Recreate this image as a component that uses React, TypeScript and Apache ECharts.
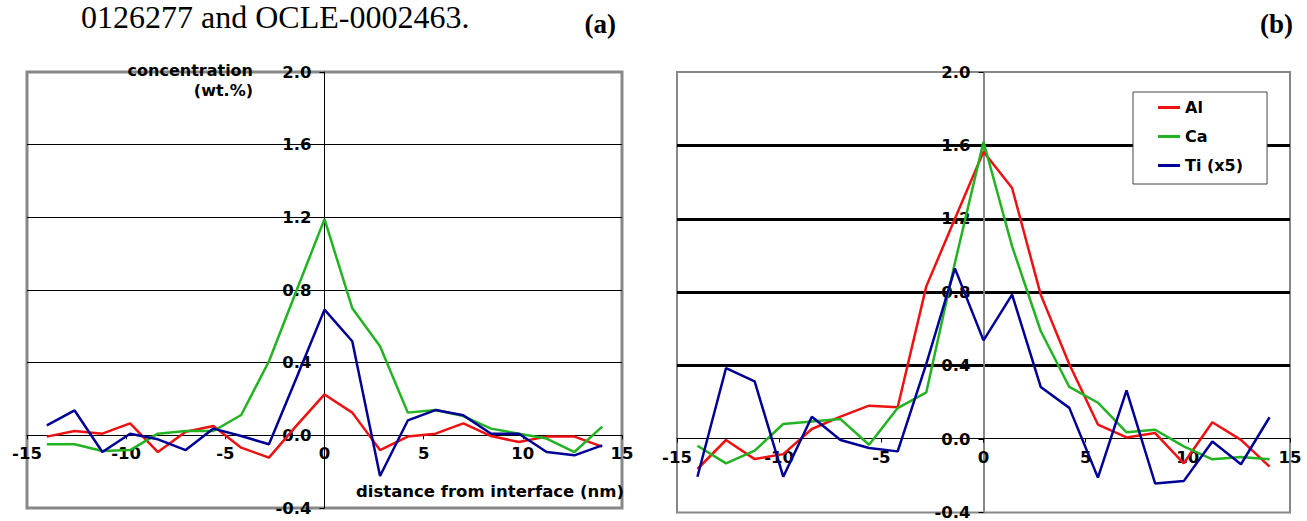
import React, { useEffect, useRef } from "react";
import * as echarts from "echarts";

// distance from interface (nm)
const distances = [-14, -12.6, -11.2, -9.8, -8.4, -7, -5.6, -4.2, -2.8, -1.4, 0, 1.4, 2.8, 4.2, 5.6, 7, 8.4, 9.8, 11.2, 12.6, 14];

// panel (a) concentration (wt.%)
const alA = [-0.007, 0.024, 0.009, 0.066, -0.092, 0.02, 0.051, -0.068, -0.123, 0.055, 0.225, 0.125, -0.081, -0.007, 0.009, 0.066, -0.004, -0.037, -0.007, -0.007, -0.062];
const caA = [-0.049, -0.049, -0.086, -0.081, 0.009, 0.024, 0.024, 0.112, 0.408, 0.8, 1.19, 0.7, 0.49, 0.125, 0.139, 0.106, 0.037, 0.009, -0.018, -0.092, 0.048];
const tiA = [0.055, 0.137, -0.092, 0.009, -0.022, -0.081, 0.037, -0.004, -0.049, 0.32, 0.692, 0.518, -0.224, 0.082, 0.139, 0.11, 0.009, 0.009, -0.092, -0.11, -0.055];

// panel (b)
const alB = [-0.163, -0.005, -0.109, -0.082, 0.055, 0.122, 0.182, 0.173, 0.832, 1.2, 1.565, 1.368, 0.787, 0.408, 0.079, 0.009, 0.033, -0.132, 0.092, -0.004, -0.15];
const caB = [-0.036, -0.132, -0.063, 0.082, 0.096, 0.109, -0.031, 0.169, 0.254, 0.96, 1.62, 1.05, 0.589, 0.284, 0.198, 0.037, 0.051, -0.04, -0.11, -0.097, -0.11];
const tiB = [-0.205, 0.387, 0.314, -0.205, 0.122, -0.005, -0.049, -0.067, 0.41, 0.93, 0.538, 0.787, 0.284, 0.17, -0.21, 0.265, -0.242, -0.229, -0.013, -0.137, 0.119];

const seriesNames = ["Al", "Ca", "Ti (x5)"];
const seriesColors = ["#ee1111", "#22b322", "#000096"];

const xMin = -15, xMax = 15, xStep = 5;
const yMin = -0.4, yMax = 2.0, yStep = 0.4;

const captionText = "0126277 and OCLE-0002463.";
const panelLabels = ["(a)", "(b)"];
const yAxisTitle = "concentration\n(wt.%)";
const xAxisTitle = "distance from interface (nm)";

const FONT = "'DejaVu Sans', Arial, sans-serif";

function pairs(ys: number[]) {
  return distances.map((x, i) => [x, ys[i]]);
}

const grids = [
  { left: 27, top: 72, width: 595, height: 436, borderWidth: 3 },
  { left: 677, top: 72, width: 613, height: 444, borderWidth: 2 },
];

export default function App() {
  const ref = useRef<HTMLDivElement>(null);
  useEffect(() => {
    if (!ref.current) return;
    const chart = echarts.init(ref.current, null, { renderer: "svg" });

    const axisLabel = {
      fontFamily: FONT,
      fontWeight: "bold" as const,
      fontSize: 16.5,
      color: "#000",
    };

    // offsets that put each axis on the other axis' zero
    const xOffset = (g: any) => -(g.height * (0 - yMin)) / (yMax - yMin);
    const yOffset = (g: any) => -(g.width * (0 - xMin)) / (xMax - xMin);

    const makeX = (gridIndex: number) => ({
      type: "value" as const,
      gridIndex,
      min: xMin,
      max: xMax,
      interval: xStep,
      position: "bottom" as const,
      offset: xOffset(grids[gridIndex]),
      axisLine: { onZero: false, lineStyle: { color: "#000", width: 1 } },
      axisTick: { show: true, length: 4, lineStyle: { color: "#000" } },
      axisLabel: { ...axisLabel, margin: 10 },
      splitLine: { show: false },
    });

    const makeY = (gridIndex: number, gridW: number, axisColor: string, axisW: number) => ({
      type: "value" as const,
      gridIndex,
      min: yMin,
      max: yMax,
      interval: yStep,
      position: "left" as const,
      offset: yOffset(grids[gridIndex]),
      axisLine: { onZero: false, lineStyle: { color: axisColor, width: axisW } },
      axisTick: { show: true, length: 5, lineStyle: { color: "#000" } },
      axisLabel: { ...axisLabel, margin: 13, formatter: (v: number) => v.toFixed(1) },
      splitLine: {
        show: true,
        lineStyle: {
          color: ["transparent", "transparent", "#000", "#000", "#000", "#000", "transparent"],
          width: gridW,
        },
      },
    });

    const panels = [
      [alA, caA, tiA],
      [alB, caB, tiB],
    ];
    const series: any[] = [];
    panels.forEach((set, p) => {
      set.forEach((ys, k) => {
        series.push({
          type: "line",
          name: seriesNames[k],
          xAxisIndex: p,
          yAxisIndex: p,
          data: pairs(ys),
          showSymbol: false,
          symbol: "none",
          lineStyle: { color: seriesColors[k], width: 2.5 },
          itemStyle: { color: seriesColors[k] },
          z: 3,
        });
      });
    });

    chart.setOption({
      animation: false,
      backgroundColor: "#fff",
      grid: grids.map((g) => ({
        left: g.left,
        top: g.top,
        width: g.width,
        height: g.height,
        show: true,
        borderColor: "#888",
        borderWidth: g.borderWidth,
        backgroundColor: "transparent",
      })),
      xAxis: [makeX(0), makeX(1)],
      yAxis: [makeY(0, 1, "#000", 1), makeY(1, 3, "#888", 2)],
      legend: {
        data: seriesNames,
        orient: "vertical",
        left: 1133,
        top: 92,
        icon: "rect",
        itemWidth: 22,
        itemHeight: 3,
        itemGap: 12,
        padding: [7, 24, 10, 25],
        backgroundColor: "#fff",
        borderColor: "#444",
        borderWidth: 1,
        textStyle: { fontFamily: FONT, fontWeight: "bold", fontSize: 16, color: "#000", lineHeight: 17 },
        selectedMode: false,
      },
      graphic: [
        {
          type: "text",
          x: 81,
          y: 16.5,
          style: { text: captionText, font: "32px 'Liberation Serif', 'Times New Roman', serif", fill: "#000", textAlign: "left", textVerticalAlign: "middle" },
        },
        {
          type: "text",
          x: 616,
          y: 24,
          style: { text: panelLabels[0], font: "bold 27px 'Liberation Serif', 'Times New Roman', serif", fill: "#000", textAlign: "right", textVerticalAlign: "middle" },
        },
        {
          type: "text",
          x: 1293,
          y: 24,
          style: { text: panelLabels[1], font: "bold 27px 'Liberation Serif', 'Times New Roman', serif", fill: "#000", textAlign: "right", textVerticalAlign: "middle" },
        },
        {
          type: "text",
          x: 253,
          y: 80.7,
          z: 10,
          style: { text: yAxisTitle, fontFamily: FONT, fontWeight: "bold", fontSize: 16, lineHeight: 20, fill: "#000", textAlign: "right", textVerticalAlign: "middle" },
        },
        {
          type: "text",
          x: 490,
          y: 491,
          z: 10,
          style: { text: xAxisTitle, fontFamily: FONT, fontWeight: "bold", fontSize: 16.5, fill: "#000", textAlign: "center", textVerticalAlign: "middle" },
        },
      ],
      series,
    });

    return () => chart.dispose();
  }, []);

  return <div ref={ref} style={{ position: "fixed", left: 0, top: 0, width: 1307, height: 521 }} />;
}
